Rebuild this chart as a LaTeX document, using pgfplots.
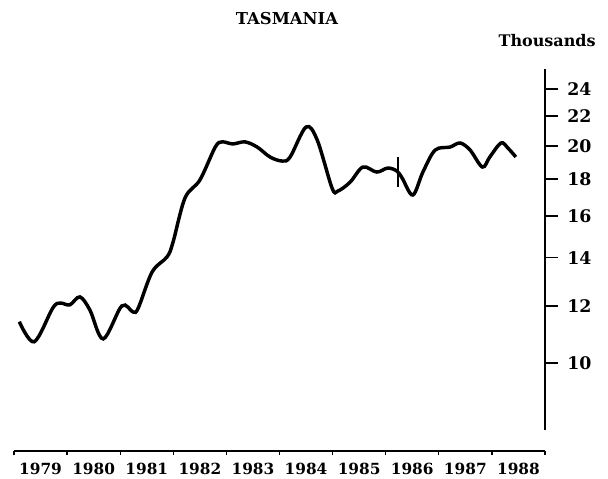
\documentclass[border=0pt]{standalone}
\usepackage{pgfplots}
\pgfplotsset{compat=1.18}
\usepackage{fontspec}
\setmainfont{DejaVu Serif}

\begin{document}
\begin{tikzpicture}
\begin{axis}[
    scale only axis,
    width=398.25pt,
    height=286.5pt,
    xmin=1979, xmax=1989,
    ymode=log,
    ymin=7.55, ymax=25.57,
    clip=false,
    axis x line*=bottom,
    axis y line*=right,
    y axis line style={draw=none},
    x axis line style={line width=1.6pt, -},
    tick align=outside,
    xtick={1979,...,1989},
    x tick label as interval,
    /pgf/number format/1000 sep={},
    /pgf/number format/assume math mode=true,
    xtick style={line width=1pt, black, /pgfplots/major tick length=3pt},
    xticklabel style={font=\fontsize{11.5}{12}\selectfont\bfseries, yshift=-1pt},
    ytick={10,12,14,16,18,20,22,24},
    yticklabels={10,12,14,16,18,20,22,24},
    ytick style={draw=none},
    yticklabel style={font=\fontsize{13}{14}\selectfont\bfseries, xshift=9pt},
    minor tick length=0pt,
]
% keeps the page the size of the scanned figure
\path (axis cs:1978.736,6.929) rectangle (axis cs:1990.186,31.88);

\addplot[black, line width=2.6pt, smooth, tension=0.55] coordinates {
    (1979.10,11.41) (1979.38,10.70) (1979.73,11.92) (1979.87,12.11)
    (1980.05,12.04) (1980.24,12.35) (1980.43,11.84) (1980.68,10.80)
    (1981.03,12.00) (1981.24,11.77) (1981.34,11.92) (1981.60,13.37)
    (1981.88,14.03) (1981.99,14.67) (1982.22,16.94) (1982.50,17.94)
    (1982.79,19.93) (1982.92,20.26) (1983.12,20.13) (1983.35,20.26)
    (1983.58,19.93) (1983.82,19.31) (1984.05,19.06) (1984.20,19.31)
    (1984.50,21.25) (1984.71,20.38) (1984.99,17.48) (1985.10,17.32)
    (1985.33,17.82) (1985.57,18.70) (1985.83,18.40) (1986.04,18.64)
    (1986.21,18.46) (1986.31,18.05) (1986.51,17.10) (1986.70,18.40)
    (1986.93,19.74) (1987.21,19.93) (1987.40,20.19) (1987.59,19.74)
    (1987.82,18.70) (1987.96,19.31) (1988.17,20.19) (1988.30,19.87)
    (1988.45,19.31)
};
% break marker
\addplot[black, line width=1.6pt] coordinates {(1986.23,17.54) (1986.23,19.31)};

% right-hand axis line and its ticks
\draw[line width=1.6pt] (axis cs:1989,8.07) -- (axis cs:1989,25.57);
\pgfplotsinvokeforeach{10,12,14,16,18,20,22,24}{
    \draw[line width=1.1pt] (axis cs:1989,#1) -- ([xshift=9.5pt]axis cs:1989,#1);
}

\node[font=\fontsize{12.3}{13}\selectfont\bfseries] at (axis cs:1984.14,30.09) {TASMANIA};
\node[font=\fontsize{12}{13}\selectfont\bfseries] at (axis cs:1989.04,27.97) {Thousands};
\end{axis}
\end{tikzpicture}
\end{document}
